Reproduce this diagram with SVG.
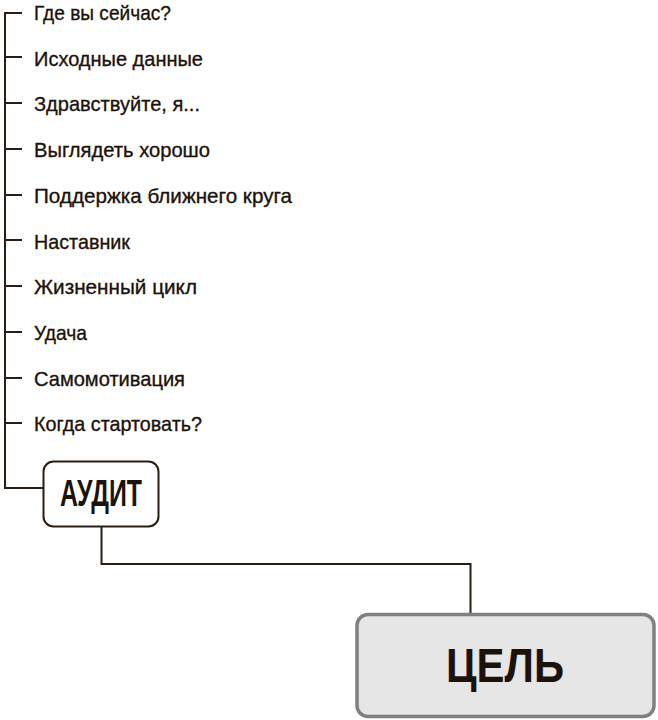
<svg xmlns="http://www.w3.org/2000/svg" width="658" height="720" viewBox="0 0 658 720">
<style>
.item{font-family:"Liberation Sans",Arial,sans-serif;font-size:21px;fill:#1c120a;stroke:#1c120a;stroke-width:0.35}
.conn{fill:none;stroke:#2a1d12;stroke-width:2}
.lbl{font-family:"Liberation Sans",Arial,sans-serif;font-weight:bold;fill:#1c120a;text-anchor:middle}
</style>
<rect width="658" height="720" fill="#ffffff"/>
<g id="connectors">
<path class="conn" d="M5,12 V488 H43"/>
<path class="conn" d="M4,13 H22 M4,57 H22 M4,103 H22 M4,149 H22 M4,195 H22 M4,240 H22 M4,286 H22 M4,332 H22 M4,378 H22 M4,423 H22"/>
<path class="conn" d="M101.5,527 V564 H470.5 V613"/>
</g>
<g id="items">
<text class="item" x="34" y="20" textLength="137" lengthAdjust="spacingAndGlyphs">Где вы сейчас?</text>
<text class="item" x="34" y="65.5" textLength="169" lengthAdjust="spacingAndGlyphs">Исходные данные</text>
<text class="item" x="34" y="111" textLength="166" lengthAdjust="spacingAndGlyphs">Здравствуйте, я...</text>
<text class="item" x="34" y="157" textLength="176" lengthAdjust="spacingAndGlyphs">Выглядеть хорошо</text>
<text class="item" x="34" y="203" textLength="258" lengthAdjust="spacingAndGlyphs">Поддержка ближнего круга</text>
<text class="item" x="34" y="248.5" textLength="96" lengthAdjust="spacingAndGlyphs">Наставник</text>
<text class="item" x="34" y="294" textLength="163" lengthAdjust="spacingAndGlyphs">Жизненный цикл</text>
<text class="item" x="34" y="340" textLength="53" lengthAdjust="spacingAndGlyphs">Удача</text>
<text class="item" x="34" y="385.5" textLength="151" lengthAdjust="spacingAndGlyphs">Самомотивация</text>
<text class="item" x="34" y="431" textLength="168" lengthAdjust="spacingAndGlyphs">Когда стартовать?</text>
</g>
<g id="audit">
<rect x="43.5" y="461.5" width="115" height="65" rx="10" fill="#ffffff" stroke="#2a1d12" stroke-width="2"/>
<text class="lbl" x="101" y="506" font-size="37" textLength="82" lengthAdjust="spacingAndGlyphs">АУДИТ</text>
</g>
<g id="goal">
<rect x="357" y="614.5" width="297" height="102" rx="11" fill="#e6e6e6" stroke="#808080" stroke-width="3.5"/>
<text class="lbl" x="505" y="682" font-size="48" textLength="118" lengthAdjust="spacingAndGlyphs">ЦЕЛЬ</text>
</g>
</svg>
